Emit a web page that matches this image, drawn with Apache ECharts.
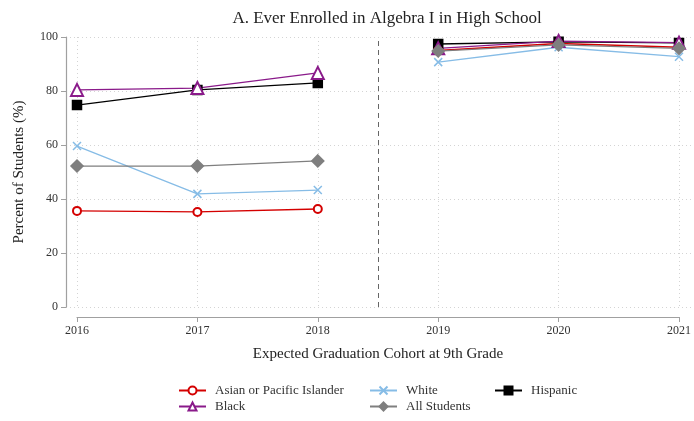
<!DOCTYPE html>
<html><head><meta charset="utf-8">
<script src="https://cdn.jsdelivr.net/npm/echarts@6/dist/echarts.min.js"></script>
<style>html,body{margin:0;padding:0;background:#fff}#c{width:694px;height:421px}</style>
</head><body><div id="c"></div>
<script>
var years = [2016, 2017, 2018, 2019, 2020, 2021];
var breakAt = 2018.5;
var asian    = [35.6, 35.2, 36.3, 95.0, 97.6, 96.2];
var black    = [80.4, 81.1, 86.7, 95.8, 98.5, 97.9];
var white    = [59.6, 41.9, 43.3, 90.7, 96.2, 92.7];
var allStud  = [52.2, 52.2, 54.1, 94.8, 97.1, 95.8];
var hispanic = [74.8, 80.4, 83.0, 97.4, 98.2, 97.8];
var yTicks = [0, 20, 40, 60, 80, 100];

function pairs(vals){
  var out = [];
  for (var i=0;i<years.length;i++){
    out.push([years[i], vals[i]]);
    if (years[i] === 2018) out.push([breakAt, '-']);
  }
  return out;
}
var FONT = '"Liberation Serif", "DejaVu Serif", serif';
var crossPath = 'path://M0,0L10,10M10,0L0,10';

function mk(name, vals, color, symbol, size, extra){
  var s = {
    name: name, type: 'line', xAxisIndex: 0, yAxisIndex: 0,
    data: pairs(vals), symbol: symbol, symbolSize: size,
    connectNulls: false, animation: false,
    lineStyle: {color: color, width: 1.3},
    itemStyle: {color: color, borderColor: color, borderWidth: 1.5}
  };
  if (extra) for (var k in extra) s[k] = extra[k];
  return s;
}

var series = [
  mk('Hispanic', hispanic, '#000000', 'rect', 9),
  mk('Asian or Pacific Islander', asian, '#d40000', 'emptyCircle', 8),
  mk('Black', black, '#8a1a8a', 'emptyTriangle', 12),
  mk('White', white, '#86bce6', crossPath, 8, {itemStyle:{color:'#86bce6', borderColor:'#86bce6', borderWidth:1.5}}),
  mk('All Students', allStud, '#7f7f7f', 'diamond', 12)
];
series[0].markLine = {
  silent: true, symbol: 'none', label: {show:false},
  lineStyle: {color:'#666', type:[5,4], width:1},
  data: [{xAxis: breakAt}]
};

function leg(name, left, top){
  return {data: [name], orient: 'horizontal', left: left, top: top, padding: 0,
    itemWidth: 27, itemHeight: 10, itemGap: 6,
    textStyle: {fontFamily: FONT, fontSize: 13, color: '#333', padding: [0,0,0,4]}};
}

var chart = echarts.init(document.getElementById('c'));
chart.setOption({
  backgroundColor: '#fff',
  animation: false,
  title: {
    text: 'A. Ever Enrolled in Algebra I in High School',
    left: 382, textAlign: 'center', top: 5,
    textStyle: {fontFamily: FONT, fontWeight: 'normal', fontSize: 17, color: '#222'}
  },
  grid: [
    {left: 77, right: 13, top: 37, bottom: 114},
    {left: 66, right: 2, top: 37, bottom: 114}
  ],
  xAxis: [
    {type: 'value', gridIndex: 0, min: 2016, max: 2021, interval: 1, offset: 10,
     axisLine: {show: true, onZero: false, lineStyle: {color: '#a0a0a0', width: 1.2}},
     axisTick: {show: true, length: 5, lineStyle: {color: '#a0a0a0'}},
     axisLabel: {fontFamily: FONT, fontSize: 12, color: '#333', margin: 8, formatter: function(v){return String(v);}},
     splitLine: {show: true, lineStyle: {color: '#d4d4d4', type: [1,3]}},
     name: 'Expected Graduation Cohort at 9th Grade', nameLocation: 'middle', nameGap: 30,
     nameTextStyle: {fontFamily: FONT, fontSize: 15, color: '#222'}},
    {type: 'value', gridIndex: 1, min: 0, max: 1, show: false}
  ],
  yAxis: [
    {type: 'value', gridIndex: 0, min: 0, max: 100, interval: 20, offset: 11,
     axisLine: {show: true, onZero: false, lineStyle: {color: '#a0a0a0', width: 1.2}},
     axisTick: {show: true, length: 5, lineStyle: {color: '#a0a0a0'}},
     axisLabel: {fontFamily: FONT, fontSize: 12, color: '#333', margin: 8},
     splitLine: {show: false},
     name: 'Percent of Students (%)', nameLocation: 'middle', nameGap: 39,
     nameTextStyle: {fontFamily: FONT, fontSize: 15, color: '#222'}},
    {type: 'value', gridIndex: 1, min: 0, max: 100, interval: 20,
     axisLine: {show: false}, axisTick: {show: false}, axisLabel: {show: false},
     splitLine: {show: true, lineStyle: {color: '#d4d4d4', type: [1,3]}}}
  ],
  legend: [
    leg('Asian or Pacific Islander', 178, 384),
    leg('Black', 178, 400),
    leg('White', 369, 384),
    leg('All Students', 369, 400),
    leg('Hispanic', 494, 384)
  ],
  series: series
});
</script>
</body></html>
